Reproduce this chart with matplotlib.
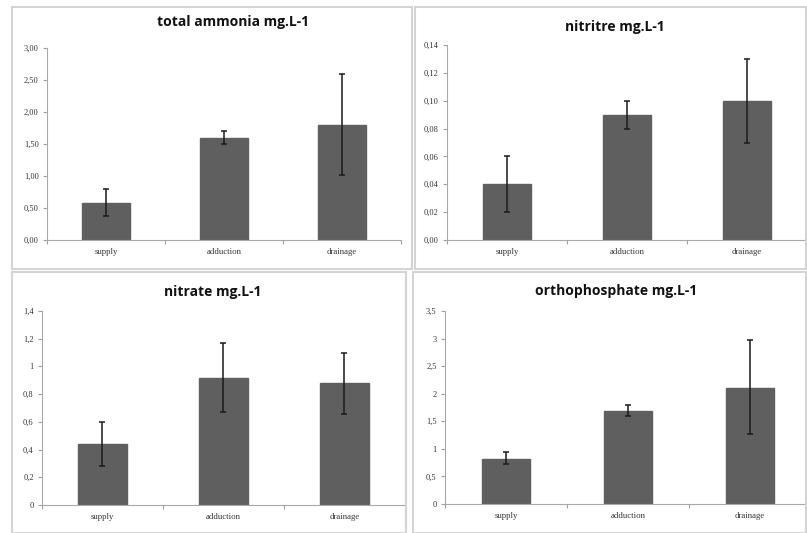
import matplotlib
matplotlib.use("Agg")
import matplotlib.pyplot as plt
from matplotlib.patches import Rectangle
from matplotlib.ticker import FuncFormatter

categories = ["supply", "adduction", "drainage"]

ammonia = [0.58, 1.60, 1.80]
ammonia_lo = [0.38, 1.50, 1.02]
ammonia_hi = [0.80, 1.70, 2.60]

nitrite = [0.04, 0.09, 0.10]
nitrite_lo = [0.02, 0.08, 0.07]
nitrite_hi = [0.06, 0.10, 0.13]

nitrate = [0.44, 0.92, 0.88]
nitrate_lo = [0.28, 0.67, 0.66]
nitrate_hi = [0.60, 1.17, 1.10]

ortho = [0.82, 1.69, 2.11]
ortho_lo = [0.72, 1.59, 1.27]
ortho_hi = [0.94, 1.79, 2.97]

W, H = 807, 533
fig = plt.figure(figsize=(W / 100, H / 100), dpi=100)
fig.patch.set_facecolor("white")

def px_rect(x0, y0, x1, y1):
    return [x0 / W, 1 - y1 / H, (x1 - x0) / W, (y1 - y0) / H]

# panel frames
frames = [(12, 7, 412, 269), (415, 7, 806, 269), (12, 272, 406, 533), (413, 272, 806, 533)]
for (x0, y0, x1, y1) in frames:
    fig.patches.append(Rectangle((x0 / W, 1 - y1 / H), (x1 - x0) / W, (y1 - y0) / H,
                                 transform=fig.transFigure, fill=False,
                                 edgecolor="#d4d4d4", linewidth=1.5))

panels = [
    dict(title="total ammonia mg.L-1", vals=ammonia, lo=ammonia_lo, hi=ammonia_hi,
         box=(47, 48, 401, 240), ymax=3.0, step=0.5, dec=2, tx=233, ty=22),
    dict(title="nitritre mg.L-1", vals=nitrite, lo=nitrite_lo, hi=nitrite_hi,
         box=(447, 45, 807, 240), ymax=0.14, step=0.02, dec=2, tx=615, ty=27),
    dict(title="nitrate mg.L-1", vals=nitrate, lo=nitrate_lo, hi=nitrate_hi,
         box=(42, 311, 405, 505), ymax=1.4, step=0.2, dec=None, tx=213, ty=292),
    dict(title="orthophosphate mg.L-1", vals=ortho, lo=ortho_lo, hi=ortho_hi,
         box=(445, 311, 811, 504), ymax=3.5, step=0.5, dec=None, tx=616, ty=291),
]

for p in panels:
    x0, y0, x1, y1 = p["box"]
    ax = fig.add_axes(px_rect(x0, y0, x1, y1))
    ax.set_facecolor("none")
    xs = list(range(len(categories)))
    yerr = [[v - l for v, l in zip(p["vals"], p["lo"])],
            [h - v for v, h in zip(p["vals"], p["hi"])]]
    ax.bar(xs, p["vals"], width=0.4, color="#5f5f5f", edgecolor="#5f5f5f", zorder=2)
    ax.errorbar(xs, p["vals"], yerr=yerr, fmt="none", ecolor="#1a1a1a",
                elinewidth=1.1, capsize=2, capthick=1.1, zorder=3)
    ax.set_xlim(-0.5, 2.5)
    ax.set_ylim(0, p["ymax"])
    n = int(round(p["ymax"] / p["step"]))
    yt = [i * p["step"] for i in range(n + 1)]
    ax.set_yticks(yt)
    dec = p["dec"]
    if dec is not None:
        fmt = FuncFormatter(lambda v, pos, d=dec: f"{v:.{d}f}".replace(".", ","))
    else:
        fmt = FuncFormatter(lambda v, pos: (f"{v:g}").replace(".", ","))
    ax.yaxis.set_major_formatter(fmt)
    ax.set_xticks(xs)
    ax.set_xticklabels(categories)
    ax.set_xticks([-0.5, 0.5, 1.5, 2.5], minor=True)
    ax.tick_params(axis="x", which="major", length=0, pad=6,
                   labelsize=6.3, labelcolor="#333333")
    ax.tick_params(axis="x", which="minor", length=3, color="#a0a0a0", width=0.8)
    ax.tick_params(axis="y", length=3, color="#a0a0a0", width=0.8, pad=3,
                   labelsize=6, labelcolor="#333333")
    for lab in ax.get_xticklabels() + ax.get_yticklabels():
        lab.set_family("Liberation Serif")
    for s in ("top", "right"):
        ax.spines[s].set_visible(False)
    for s in ("left", "bottom"):
        ax.spines[s].set_color("#a8a8a8")
        ax.spines[s].set_linewidth(0.8)
    fig.text(p["tx"] / W, 1 - p["ty"] / H, p["title"], ha="center", va="center",
             fontsize=10, fontweight="bold", family="Open Sans", color="#111111")

fig.savefig("out.png", dpi=100, facecolor="white")
